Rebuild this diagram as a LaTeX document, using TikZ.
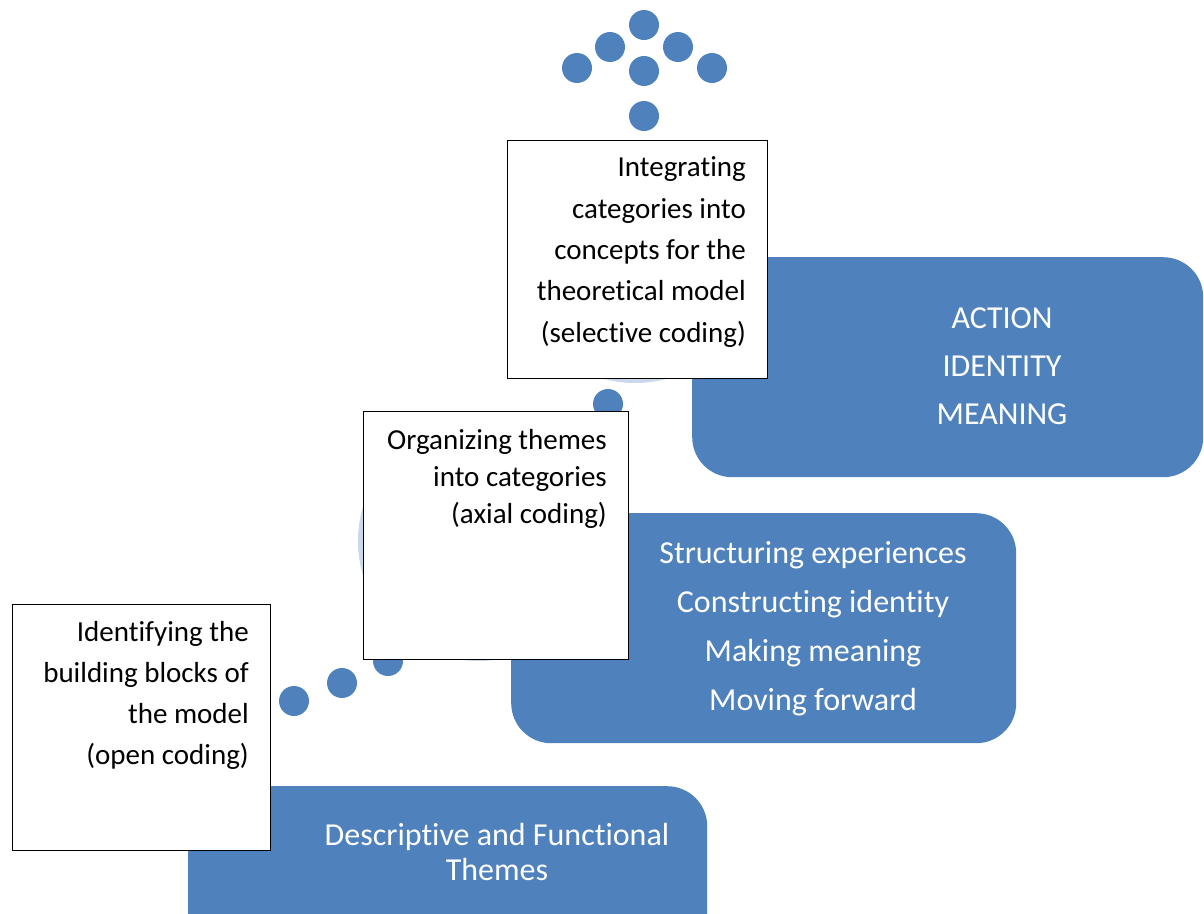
\documentclass[tikz,border=0pt]{standalone}
\usepackage{fontspec}
\setmainfont{Carlito}[Ligatures=NoCommon]
\definecolor{accent}{HTML}{4F81BD}
\definecolor{faint}{HTML}{CBD7EA}
\begin{document}
\begin{tikzpicture}[x=1pt,y=-1pt,
  bluebox/.style={fill=accent, draw=none, rounded corners=40pt, anchor=north west, inner sep=0pt},
  whitebox/.style={fill=white, draw=black, line width=1pt, anchor=north west, inner sep=0pt},
  dotc/.style={circle, fill=accent, draw=none, minimum size=30pt, inner sep=0pt},
  faintc/.style={circle, fill=faint, draw=none, inner sep=0pt, minimum size=240pt},
  btext/.style={text=black, align=right, inner sep=0pt, anchor=base east},
  wtext/.style={text=white, align=center, inner sep=0pt, anchor=base}]
\useasboundingbox (0,0) rectangle (1204,913);
\clip (0,0) rectangle (1204,913);
% blue panels
\node[bluebox, minimum width=511pt, minimum height=220pt] (b3) at (692,257) {};
\node[bluebox, minimum width=505pt, minimum height=230pt] (b2) at (511,513) {};
\node[bluebox, minimum width=519pt, minimum height=200pt] (b1) at (188,786) {};
% faint circles behind the text boxes
\node[faintc] (c3) at (635,263) {};
\node[faintc] (c2) at (478,541) {};
% dots
\node[dotc] (d1) at (294,701) {};
\node[dotc] (d2) at (342,683) {};
\node[dotc] (d3) at (388,661) {};
\node[dotc] (d4) at (608,404) {};
\node[dotc] (a1) at (644,116) {};
\node[dotc] (a2) at (644,71) {};
\node[dotc] (a3) at (644,25) {};
\node[dotc] (a4) at (610,47) {};
\node[dotc] (a5) at (678,47) {};
\node[dotc] (a6) at (577,68) {};
\node[dotc] (a7) at (712,68) {};
% white text boxes
\node[whitebox, minimum width=260pt, minimum height=238pt] (w3) at (507,140) {};
\node[whitebox, minimum width=265pt, minimum height=248pt] (w2) at (363,411) {};
\node[whitebox, minimum width=258pt, minimum height=246pt] (w1) at (12,604) {};
% texts in white boxes (base anchor = last line's baseline)
\node[btext, font=\fontsize{29}{41.3}\selectfont] (t3) at (746,342)
  {Integrating\\categories into\\concepts for the\\theoretical model\\(selective coding)};
\node[btext, font=\fontsize{29}{36.7}\selectfont] (t2) at (607,523)
  {Organizing themes\\into categories\\(axial coding)};
\node[btext, font=\fontsize{29}{40.7}\selectfont] (t1) at (249,764)
  {Identifying the\\building blocks of\\the model\\(open coding)};
% texts in blue panels
\node[wtext, font=\fontsize{32}{48}\selectfont] (u3) at (1002,424)
  {ACTION\\IDENTITY\\MEANING};
\node[wtext, font=\fontsize{32}{49}\selectfont] (u2) at (813,710)
  {Structuring experiences\\Constructing identity\\Making meaning\\Moving forward};
\node[wtext, font=\fontsize{32}{35}\selectfont] (u1) at (497,880)
  {Descriptive and Functional\\Themes};
\end{tikzpicture}
\end{document}
